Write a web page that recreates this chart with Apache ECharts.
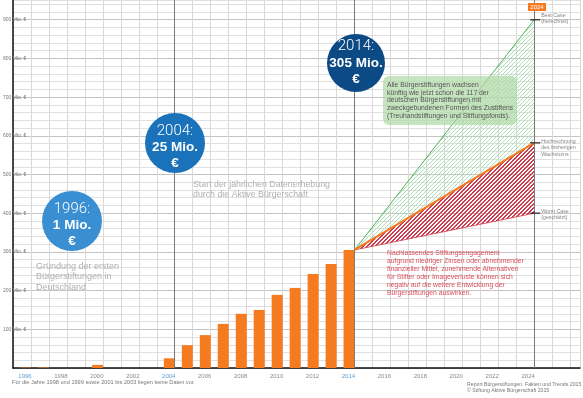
<!DOCTYPE html>
<html>
<head>
<meta charset="utf-8">
<script src="https://cdn.jsdelivr.net/npm/echarts@6/dist/echarts.min.js"></script>
<style>
  html, body { margin: 0; padding: 0; background: #fff; }
  #chart { width: 583px; height: 398px; }
</style>
</head>
<body>
<div id="chart"></div>
<script>
// Stiftungskapital der Bürgerstiftungen in Deutschland (Mio. €), null = keine Daten
const years = [1996, 1997, 1998, 1999, 2000, 2001, 2002, 2003, 2004, 2005,
               2006, 2007, 2008, 2009, 2010, 2011, 2012, 2013, 2014];
const capital = [1, 1.5, null, null, 8, null, null, null, 25, 59,
                 85, 114, 140, 150, 189, 207, 243, 269, 305];

// Szenarien 2014 -> 2024
const projectionYears = [2014, 2024];
const worstCase = [305, 400];
const trendCase = [305, 582];
const bestCase = [305, 900];
const scenarioLabels = ['Best Case\n(berechnet)', 'Hochrechnung\ndes bisherigen\nWachstums', 'Worst Case\n(geschätzt)'];

// Achsenbeschriftung
const labelYears = [1996, 1998, 2000, 2002, 2004, 2006, 2008, 2010, 2012, 2014, 2016, 2018, 2020, 2022, 2024];
const highlightYears = [1996, 2004, 2014];
const milestoneYears = [2004, 2014, 2024];

const FONT = "'Liberation Sans', Arial, sans-serif";
const ORANGE = '#f47b20';

// pixel-crisp diagonal hatch tile ("/" direction): `thick` of every `period` diagonals are coloured
function hatch(color, thick, period) {
  const c = document.createElement('canvas');
  c.width = c.height = period;
  const g = c.getContext('2d');
  g.fillStyle = color;
  for (let x = 0; x < period; x++) {
    for (let y = 0; y < period; y++) {
      if ((x + y) % period < thick) g.fillRect(x, y, 1, 1);
    }
  }
  return c;
}
const bandFills = [
  { image: hatch('#cf3a4f', 2, 4), repeat: 'repeat' },
  { image: hatch('#b1dfb7', 1, 4), repeat: 'repeat' }
];

const barData = [];
years.forEach((y, i) => {
  if (capital[i] != null) barData.push([y - 0.3, capital[i]]);
});
const pair = (arr) => projectionYears.map((y, i) => [y, arr[i]]);
// each band: x0, x1, lower0, lower1, upper0, upper1
const bandData = [[worstCase, trendCase], [trendCase, bestCase]].map(([lo, hi]) =>
  [projectionYears[0], projectionYears[1], lo[0], lo[1], hi[0], hi[1]]);

const chart = echarts.init(document.getElementById('chart'), null, { renderer: 'canvas' });

const option = {
  animation: false,
  grid: { left: 12, right: 0, top: 0, bottom: 30, containLabel: false },
  xAxis: {
    type: 'value', min: 1995, max: 2026.55, interval: 1,
    axisLine: { show: true, onZero: false, lineStyle: { color: '#111', width: 1.5 } },
    axisTick: { show: false },
    splitLine: { show: true, lineStyle: { color: '#d9d9d9', width: 1 } },
    axisLabel: {
      interval: 0, margin: 5, hideOverlap: false, fontFamily: FONT, fontSize: 6,
      formatter: (v) => {
        if (!labelYears.includes(v)) return '';
        return '{' + (highlightYears.includes(v) ? 'hi' : 'yr') + '|' + v + '}';
      },
      rich: {
        yr: { color: '#8a8a8a', fontSize: 6, fontFamily: FONT, padding: [0, 12, 0, 0] },
        hi: { color: '#5c9fd6', fontSize: 6, fontFamily: FONT, padding: [0, 12, 0, 0] }
      }
    }
  },
  yAxis: {
    type: 'value', min: 0, max: 951, interval: 20,
    axisLine: { show: true, lineStyle: { color: '#111', width: 1.5 } },
    axisTick: { show: false },
    splitLine: { show: true, lineStyle: { color: ['#c4c4c4', '#e0e0e0', '#e0e0e0', '#e0e0e0', '#e0e0e0'], width: 1 } },
    axisLabel: {
      margin: 10, align: 'left', fontFamily: FONT, fontSize: 5, color: '#777',
      formatter: (v) => (v > 0 && v % 100 === 0) ? v + ' Mio. €' : ''
    }
  },
  series: [
    {
      type: 'bar', data: barData, barWidth: 11, z: 3,
      itemStyle: { color: ORANGE },
      markLine: {
        silent: true, symbol: ['none', 'none'], label: { show: false },
        lineStyle: { color: '#7a7a7a', width: 1, type: 'solid' },
        data: milestoneYears.map((y) => ({ xAxis: y }))
      }
    },
    // hatched bands between the scenario lines
    {
      type: 'custom', z: 2, silent: true, data: bandData,
      encode: { x: [0, 1], y: [2, 3, 4, 5] },
      renderItem: (params, api) => {
        const pts = [
          api.coord([api.value(0), api.value(2)]),
          api.coord([api.value(1), api.value(3)]),
          api.coord([api.value(1), api.value(5)]),
          api.coord([api.value(0), api.value(4)])
        ];
        return { type: 'polygon', shape: { points: pts }, style: { fill: bandFills[params.dataIndex] } };
      }
    },
    // scenario lines
    { type: 'line', data: pair(worstCase), symbol: 'none', z: 4, lineStyle: { color: '#cf3a4f', width: 0.8 } },
    { type: 'line', data: pair(bestCase), symbol: 'none', z: 4, lineStyle: { color: '#4fb35a', width: 1 } },
    { type: 'line', data: pair(trendCase), symbol: 'none', z: 5, lineStyle: { color: ORANGE, width: 2 } },
    // scenario end marks with their captions
    {
      type: 'scatter', symbol: 'rect', symbolSize: [10, 1.5], symbolOffset: [1, 0], z: 6,
      itemStyle: { color: '#222' },
      label: {
        show: true, position: 'right', distance: 1, fontFamily: FONT, fontSize: 5.3,
        lineHeight: 6.3, color: '#666', align: 'left',
        formatter: (p) => scenarioLabels[p.dataIndex]
      },
      data: [
        { value: [2024, bestCase[1]], label: { offset: [0, -1] } },
        { value: [2024, trendCase[1]], label: { offset: [0, 5] } },
        { value: [2024, worstCase[1]], label: { offset: [0, 1] } }
      ]
    }
  ],
  graphic: [
    // 1996
    { type: 'circle', z: 100, shape: { cx: 72, cy: 221, r: 30 }, style: { fill: '#3a8fd3' } },
    { type: 'text', z: 101, style: { text: '1996:', x: 72, y: 209.5, align: 'center', verticalAlign: 'middle', fill: '#fff', font: "300 15px Roboto, " + FONT } },
    { type: 'text', z: 101, style: { text: '1 Mio.', x: 72, y: 225.5, align: 'center', verticalAlign: 'middle', fill: '#fff', font: "bold 13.5px " + FONT } },
    { type: 'text', z: 101, style: { text: '€', x: 72, y: 241.5, align: 'center', verticalAlign: 'middle', fill: '#fff', font: "bold 13.5px " + FONT } },
    { type: 'text', z: 101, style: { text: 'Gründung der ersten\nBürgerstiftungen in\nDeutschland', x: 36, y: 261, align: 'left', verticalAlign: 'top', fill: '#b0b0b0', font: "9px " + FONT, lineHeight: 10.5 } },
    // 2004
    { type: 'circle', z: 100, shape: { cx: 175, cy: 143, r: 30 }, style: { fill: '#1a73ba' } },
    { type: 'text', z: 101, style: { text: '2004:', x: 175, y: 131.7, align: 'center', verticalAlign: 'middle', fill: '#fff', font: "300 15px Roboto, " + FONT } },
    { type: 'text', z: 101, style: { text: '25 Mio.', x: 175, y: 147.7, align: 'center', verticalAlign: 'middle', fill: '#fff', font: "bold 13.5px " + FONT } },
    { type: 'text', z: 101, style: { text: '€', x: 175, y: 163.3, align: 'center', verticalAlign: 'middle', fill: '#fff', font: "bold 13.5px " + FONT } },
    { type: 'text', z: 101, style: { text: 'Start der jährlichen Datenerhebung\ndurch die Aktive Bürgerschaft', x: 193, y: 180, align: 'left', verticalAlign: 'top', fill: '#b0b0b0', font: "8.8px " + FONT, lineHeight: 10 } },
    // 2014
    { type: 'circle', z: 100, shape: { cx: 356, cy: 63, r: 29 }, style: { fill: '#0b4a85' } },
    { type: 'text', z: 101, style: { text: '2014:', x: 356, y: 46.7, align: 'center', verticalAlign: 'middle', fill: '#fff', font: "300 15px Roboto, " + FONT } },
    { type: 'text', z: 101, style: { text: '305 Mio.', x: 356, y: 63.3, align: 'center', verticalAlign: 'middle', fill: '#fff', font: "bold 13.5px " + FONT } },
    { type: 'text', z: 101, style: { text: '€', x: 356, y: 79.3, align: 'center', verticalAlign: 'middle', fill: '#fff', font: "bold 13.5px " + FONT } },
    // best case note
    { type: 'rect', z: 100, shape: { x: 383, y: 76, width: 134, height: 49, r: 6 }, style: { fill: 'rgba(178,218,168,0.72)' } },
    { type: 'text', z: 101, style: { text: 'Alle Bürgerstiftungen wachsen\nkünftig wie jetzt schon die 117 der\ndeutschen Bürgerstiftungen mit\nzweckgebundenen Formen des Zustiftens\n(Treuhandstiftungen und Stiftungsfonds).', x: 387, y: 81.2, align: 'left', verticalAlign: 'top', fill: '#555', font: "6.8px " + FONT, lineHeight: 7.75 } },
    // worst case note
    { type: 'text', z: 101, style: { text: 'Nachlassendes Stiftungsengagement\naufgrund niedriger Zinsen oder abnehmender\nfinanzieller Mittel, zunehmende Alternativen\nfür Stifter oder Imageverluste können sich\nnegativ auf die weitere Entwicklung der\nBürgerstiftungen auswirken.', x: 387, y: 248.7, align: 'left', verticalAlign: 'top', fill: '#d8505f', font: "6.8px " + FONT, lineHeight: 8.05 } },
    // year tag on top of the 2024 line
    { type: 'rect', z: 100, shape: { x: 528, y: 3, width: 18, height: 8 }, style: { fill: ORANGE } },
    { type: 'text', z: 101, style: { text: '2024', x: 537, y: 7.2, align: 'center', verticalAlign: 'middle', fill: '#fff', font: "6px " + FONT } },
    // footnotes
    { type: 'text', z: 101, style: { text: 'Für die Jahre 1998 und 1999 sowie 2001 bis 2003 liegen keine Daten vor.', x: 12, y: 382.7, align: 'left', verticalAlign: 'middle', fill: '#777', font: "5.6px " + FONT } },
    { type: 'text', z: 101, style: { text: 'Report Bürgerstiftungen. Fakten und Trends 2015\n© Stiftung Aktive Bürgerschaft 2015', x: 467, y: 381, align: 'left', verticalAlign: 'top', fill: '#777', font: "5.2px " + FONT, lineHeight: 6.5 } }
  ]
};

chart.setOption(option);
</script>
</body>
</html>
